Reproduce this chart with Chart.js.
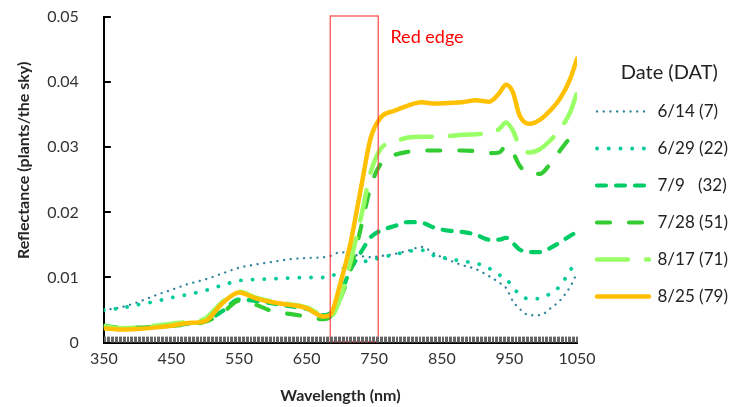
<!DOCTYPE html>
<html>
<head>
<meta charset="utf-8">
<script src="https://cdn.jsdelivr.net/npm/chart.js@4/dist/chart.umd.min.js"></script>
<style>
  html, body { margin: 0; padding: 0; background: #fff; }
  #wrap { width: 736px; height: 407px; position: relative; }
</style>
</head>
<body>
<div id="wrap"><canvas id="chart"></canvas></div>
<script>
// wavelength (nm) sample points
var wavelengths = [350, 375, 400, 425, 450, 475, 500, 525, 550, 575,
  600, 625, 650, 675, 685, 700, 715, 730, 745, 760,
  780, 800, 820, 840, 860, 880, 900, 920, 935, 945,
  955, 965, 980, 995, 1010, 1025, 1040, 1050];

var seriesLabels = ["6/14 (7)", "6/29 (22)", "7/9   (32)", "7/28 (51)", "8/17 (71)", "8/25 (79)"];

var refl0614 = [0.0050, 0.0054, 0.0062, 0.0072, 0.0081, 0.0090, 0.0097, 0.0106, 0.0115, 0.0120,
  0.0124, 0.0128, 0.0130, 0.0131, 0.0133, 0.0139, 0.0136, 0.0133, 0.0131, 0.0133,
  0.0136, 0.0141, 0.0147, 0.0136, 0.0127, 0.0119, 0.0113, 0.0102, 0.0092, 0.0084,
  0.0064, 0.0052, 0.0042, 0.0042, 0.0052, 0.0065, 0.0086, 0.0107];

var refl0629 = [0.0050, 0.0053, 0.0058, 0.0063, 0.0069, 0.0074, 0.0080, 0.0088, 0.0095, 0.0097,
  0.0098, 0.0099, 0.0100, 0.0100, 0.0101, 0.0111, 0.0120, 0.0124, 0.0126, 0.0131,
  0.0135, 0.0140, 0.0142, 0.0133, 0.0129, 0.0125, 0.0122, 0.0114, 0.0104, 0.0098,
  0.0085, 0.0074, 0.0067, 0.0068, 0.0075, 0.0087, 0.0111, 0.0125];

var refl0709 = [0.0025, 0.0022, 0.0022, 0.0024, 0.0026, 0.0029, 0.0033, 0.0048, 0.0066, 0.0064,
  0.0060, 0.0056, 0.0052, 0.0042, 0.0045, 0.0075, 0.0112, 0.0138, 0.0162, 0.0172,
  0.0179, 0.0185, 0.0184, 0.0176, 0.0172, 0.0170, 0.0166, 0.0158, 0.0158, 0.0161,
  0.0153, 0.0143, 0.0139, 0.0139, 0.0145, 0.0154, 0.0164, 0.0170];

var refl0728 = [0.0026, 0.0023, 0.0023, 0.0024, 0.0026, 0.0028, 0.0032, 0.0045, 0.0064, 0.0058,
  0.0048, 0.0044, 0.0040, 0.0036, 0.0040, 0.0068, 0.0112, 0.0175, 0.0240, 0.0275,
  0.0288, 0.0293, 0.0295, 0.0295, 0.0295, 0.0295, 0.0294, 0.0291, 0.0292, 0.0302,
  0.0292, 0.0272, 0.0259, 0.0259, 0.0274, 0.0295, 0.0315, 0.0326];

var refl0817 = [0.0025, 0.0022, 0.0023, 0.0026, 0.0029, 0.0032, 0.0037, 0.0062, 0.0078, 0.0069,
  0.0063, 0.0059, 0.0054, 0.0041, 0.0040, 0.0068, 0.0125, 0.0190, 0.0262, 0.0298,
  0.0308, 0.0315, 0.0316, 0.0316, 0.0317, 0.0319, 0.0320, 0.0322, 0.0328, 0.0338,
  0.0326, 0.0302, 0.0292, 0.0297, 0.0310, 0.0328, 0.0354, 0.0384];

var refl0825 = [0.0022, 0.0020, 0.0021, 0.0023, 0.0026, 0.0030, 0.0033, 0.0060, 0.0077, 0.0068,
  0.0062, 0.0058, 0.0053, 0.0040, 0.0043, 0.0091, 0.0153, 0.0235, 0.0315, 0.0346,
  0.0356, 0.0364, 0.0369, 0.0367, 0.0368, 0.0369, 0.0372, 0.0370, 0.0383, 0.0396,
  0.0385, 0.0349, 0.0336, 0.0342, 0.0356, 0.0375, 0.0405, 0.0436];

var yTicks = [0, 0.01, 0.02, 0.03, 0.04, 0.05];
var redEdgeRange = [685, 756];   // nm
var redEdgeText = "Red edge";

function points(values) {
  return wavelengths.map(function (w, i) { return { x: w, y: values[i] }; });
}

var FONT = "Lato";

// short inward tick marks on both axes (drawn under the lines)
var innerTicksPlugin = {
  id: "innerTicks",
  afterDraw: function (chart) {
    var ctx = chart.ctx;
    var x = chart.scales.x, y = chart.scales.y;
    var area = chart.chartArea;
    ctx.save();
    ctx.fillStyle = "#666";
    x.ticks.forEach(function (t) {
      var px = Math.round(x.getPixelForValue(t.value));
      ctx.fillRect(px, area.bottom - 6, 1, 6);
    });
    ctx.fillStyle = "#000";
    y.ticks.forEach(function (t) {
      var py = Math.round(y.getPixelForValue(t.value));
      ctx.fillRect(area.left, py - 1, 7, 2);
    });
    ctx.restore();
  }
};

// red edge box + its caption
var redEdgePlugin = {
  id: "redEdge",
  afterDatasetsDraw: function (chart) {
    var ctx = chart.ctx;
    var x = chart.scales.x, y = chart.scales.y;
    var x0 = x.getPixelForValue(redEdgeRange[0]);
    var x1 = x.getPixelForValue(redEdgeRange[1]);
    var y0 = y.getPixelForValue(yTicks[yTicks.length - 1]) - 1;
    var y1 = y.getPixelForValue(0) - 1;
    ctx.save();
    ctx.strokeStyle = "rgba(255, 40, 40, 0.7)";
    ctx.lineWidth = 1.5;
    ctx.strokeRect(x0, y0, x1 - x0, y1 - y0);
    ctx.fillStyle = "#ff0000";
    ctx.font = "18px " + FONT;
    ctx.textBaseline = "middle";
    ctx.fillText(redEdgeText, x.getPixelForValue(774), y.getPixelForValue(0.0469));
    ctx.restore();
  }
};

var styles = [
  { color: "#31849b", width: 2.3, dash: [0.1, 6.6], order: 5 },
  { color: "#00cc99", width: 3.8, dash: [0.1, 11.6], order: 4 },
  { color: "#00cc66", width: 4.2, dash: [9, 10], order: 3 },
  { color: "#33cc33", width: 4.2, dash: [13, 19], order: 2 },
  { color: "#99ff66", width: 4.5, dash: [31, 18], order: 1 },
  { color: "#ffc000", width: 4.5, dash: [], order: 0 }
];
var allValues = [refl0614, refl0629, refl0709, refl0728, refl0817, refl0825];

var datasets = allValues.map(function (vals, i) {
  var s = styles[i];
  return {
    label: seriesLabels[i],
    data: points(vals),
    borderColor: s.color,
    backgroundColor: s.color,
    borderWidth: s.width,
    borderDash: s.dash,
    borderCapStyle: "round",
    borderJoinStyle: "round",
    pointRadius: 0,
    fill: false,
    cubicInterpolationMode: "monotone",
    order: s.order
  };
});

var chart = new Chart(document.getElementById("chart"), {
  type: "line",
  data: { datasets: datasets },
  plugins: [innerTicksPlugin, redEdgePlugin],
  options: {
    responsive: true,
    maintainAspectRatio: false,
    animation: false,
    devicePixelRatio: 1,
    layout: { padding: { left: 4, top: 17, right: 0, bottom: 0 } },
    plugins: {
      tooltip: { enabled: false },
      legend: {
        position: "right",
        align: "start",
        maxWidth: 159,
        title: {
          display: true,
          text: "     Date (DAT)",
          color: "#222",
          font: { family: FONT, size: 20, lineHeight: 1 },
          padding: { top: 46, bottom: 0 }
        },
        labels: {
          usePointStyle: true,
          pointStyleWidth: 52,
          boxHeight: 10,
          padding: 20,
          color: "#222",
          font: { family: FONT, size: 17 },
          generateLabels: function (chart) {
            return chart.data.datasets.map(function (ds, i) {
              return {
                text: ds.label,
                strokeStyle: ds.borderColor,
                fillStyle: ds.borderColor,
                lineWidth: ds.borderWidth,
                lineDash: ds.borderDash,
                lineCap: "round",
                pointStyle: "line",
                fontColor: "#222",
                hidden: false,
                datasetIndex: i
              };
            });
          }
        }
      }
    },
    scales: {
      x: {
        type: "linear",
        min: 350,
        max: 1050,
        ticks: {
          stepSize: 2,
          autoSkip: false,
          maxRotation: 0,
          padding: 2,
          color: "#333",
          font: { family: FONT, size: 16 },
          callback: function (v) {
            var n = Math.round(v);
            return (n - 350) % 100 === 0 ? String(n) : "";
          }
        },
        grid: { drawOnChartArea: false, tickLength: 5, color: "rgba(0,0,0,0)" },
        border: { color: "#000", width: 2 },
        title: {
          display: true,
          text: "Wavelength (nm)",
          color: "#262626",
          font: { family: FONT, size: 16, weight: "bold" },
          padding: { top: 15, bottom: 2 }
        }
      },
      y: {
        min: 0,
        max: 0.05,
        afterBuildTicks: function (axis) {
          axis.ticks = yTicks.map(function (v) { return { value: v }; });
        },
        ticks: {
          padding: 4,
          color: "#333",
          font: { family: FONT, size: 16 },
          callback: function (v) { return v === 0 ? "0" : v.toFixed(2); }
        },
        grid: { drawOnChartArea: false, tickLength: 21, color: "rgba(0,0,0,0)" },
        border: { color: "#000", width: 2 },
        title: {
          display: true,
          text: "          Reflectance (plants/the sky)",
          color: "#262626",
          font: { family: FONT, size: 16, weight: "bold" },
          padding: { top: 10, bottom: 10 }
        }
      }
    }
  }
});
</script>
</body>
</html>
